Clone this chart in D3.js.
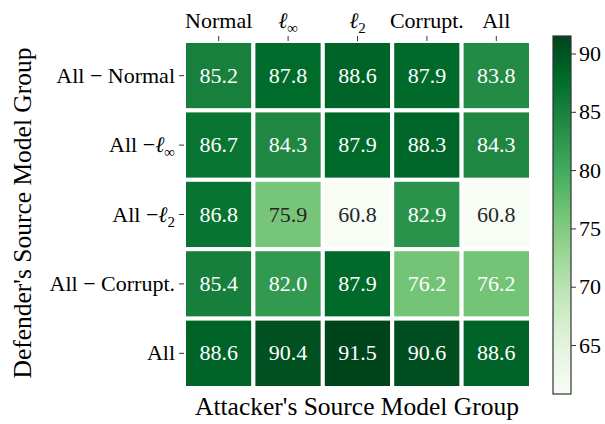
<!DOCTYPE html>
<html>
<head>
<meta charset="utf-8">
<script src="https://cdn.jsdelivr.net/npm/d3@7"></script>
</head>
<body style="margin:0;background:#fff">
<svg id="chart" width="605" height="424"></svg>
<script>
// ---- data ----
const attackers = ["Normal", "linf", "l2", "Corrupt.", "All"];
const defenders = ["All − Normal", "All −linf", "All −l2", "All − Corrupt.", "All"];
const values = [
  [85.2, 87.8, 88.6, 87.9, 83.8],
  [86.7, 84.3, 87.9, 88.3, 84.3],
  [86.8, 75.9, 60.8, 82.9, 60.8],
  [85.4, 82.0, 87.9, 76.2, 76.2],
  [88.6, 90.4, 91.5, 90.6, 88.6]
];
const colorTicks = [65, 70, 75, 80, 85, 90];
const greens = ["#f7fcf5", "#e5f5e0", "#c7e9c0", "#a1d99b", "#74c476", "#41ab5d", "#238b45", "#006d2c", "#00441b"];

// ---- layout ----
const FONT = "Liberation Serif";
const svg = d3.select("#chart");
const hm = { x0: 184, x1: 531, y0: 41, y1: 388 };
const cb = { x0: 553, x1: 571, y0: 36, y1: 394 };
const FS = 22;
const FS_TITLE = 25.5;

const flat = values.flat();
const vmin = d3.min(flat), vmax = d3.max(flat);
const norm = d3.scaleLinear().domain([vmin, vmax]).range([0, 1]).clamp(true);
const cmap = d3.scaleLinear()
  .domain(greens.map((_, i) => i / (greens.length - 1)))
  .range(greens)
  .interpolate(d3.interpolateRgb);
const color = v => cmap(norm(v));

const x = d3.scaleBand().domain(d3.range(attackers.length)).range([hm.x0, hm.x1]);
const y = d3.scaleBand().domain(d3.range(defenders.length)).range([hm.y0, hm.y1]);

const cells = [];
values.forEach((row, i) => row.forEach((v, j) => cells.push({ i, j, v })));

const g = svg.append("g");
g.selectAll("rect.cell").data(cells).enter().append("rect")
  .attr("class", "cell")
  .attr("x", d => x(d.j))
  .attr("y", d => y(d.i))
  .attr("width", x.bandwidth())
  .attr("height", y.bandwidth())
  .attr("fill", d => color(d.v))
  .attr("stroke", "#fff")
  .attr("stroke-width", 4);

g.selectAll("text.val").data(cells).enter().append("text")
  .attr("class", "val")
  .attr("x", d => x(d.j) + x.bandwidth() / 2)
  .attr("y", d => y(d.i) + y.bandwidth() / 2 + 7)
  .attr("text-anchor", "middle")
  .attr("font-family", FONT)
  .attr("font-size", FS)
  .attr("fill", d => d.v < 76 ? "#262626" : "#ffffff")
  .text(d => d.v.toFixed(1));

// label renderer with math symbols
function renderLabel(sel, label) {
  const m = label.match(/^(.*?)(linf|l2)$/);
  if (!m) { sel.text(label); return; }
  if (m[1]) sel.append("tspan").text(m[1]);
  sel.append("tspan").attr("font-style", "italic").text("ℓ");
  sel.append("tspan").attr("font-size", 15).attr("dy", 5)
    .text(m[2] === "linf" ? "∞" : "2");
}

// top axis
const topAxis = svg.append("g");
attackers.forEach((a, j) => {
  const cx = x(j) + x.bandwidth() / 2;
  topAxis.append("line").attr("x1", cx).attr("x2", cx).attr("y1", hm.y0 - 5).attr("y2", hm.y0)
    .attr("stroke", "#333").attr("stroke-width", 1);
  const t = topAxis.append("text").attr("x", cx).attr("y", 28).attr("text-anchor", "middle")
    .attr("font-family", FONT).attr("font-size", FS).attr("fill", "#000");
  renderLabel(t, a);
});

// left axis
const leftAxis = svg.append("g");
defenders.forEach((d, i) => {
  const cyy = y(i) + y.bandwidth() / 2;
  leftAxis.append("line").attr("x1", hm.x0 - 5).attr("x2", hm.x0).attr("y1", cyy).attr("y2", cyy)
    .attr("stroke", "#333").attr("stroke-width", 1);
  const t = leftAxis.append("text").attr("x", 175).attr("y", cyy + 7)
    .attr("text-anchor", "end").attr("font-family", FONT).attr("font-size", FS).attr("fill", "#000");
  renderLabel(t, d);
});

// axis titles
svg.append("text").attr("x", 357).attr("y", 415).attr("text-anchor", "middle")
  .attr("font-family", FONT).attr("font-size", FS_TITLE).attr("fill", "#000")
  .text("Attacker's Source Model Group");
svg.append("text").attr("transform", "translate(31,213) rotate(-90)").attr("text-anchor", "middle")
  .attr("font-family", FONT).attr("font-size", FS_TITLE).attr("fill", "#000")
  .text("Defender's Source Model Group");

// colorbar
const defs = svg.append("defs");
const grad = defs.append("linearGradient").attr("id", "cbgrad")
  .attr("x1", 0).attr("y1", 1).attr("x2", 0).attr("y2", 0);
greens.forEach((c, i) => grad.append("stop").attr("offset", i / (greens.length - 1)).attr("stop-color", c));
svg.append("rect").attr("x", cb.x0).attr("y", cb.y0).attr("width", cb.x1 - cb.x0).attr("height", cb.y1 - cb.y0)
  .attr("fill", "url(#cbgrad)").attr("stroke", "#333").attr("stroke-width", 1.2);
const cScale = d3.scaleLinear().domain([vmin, vmax]).range([cb.y1, cb.y0]);
const cax = d3.axisRight(cScale).tickValues(colorTicks).tickSize(5).tickPadding(3);
const cg = svg.append("g").attr("transform", `translate(${cb.x1},0)`).call(cax);
cg.attr("font-family", FONT).attr("font-size", FS);
cg.select(".domain").remove();
cg.selectAll(".tick line").attr("stroke", "#333");
cg.selectAll(".tick text").attr("fill", "#000");
</script>
</body>
</html>
